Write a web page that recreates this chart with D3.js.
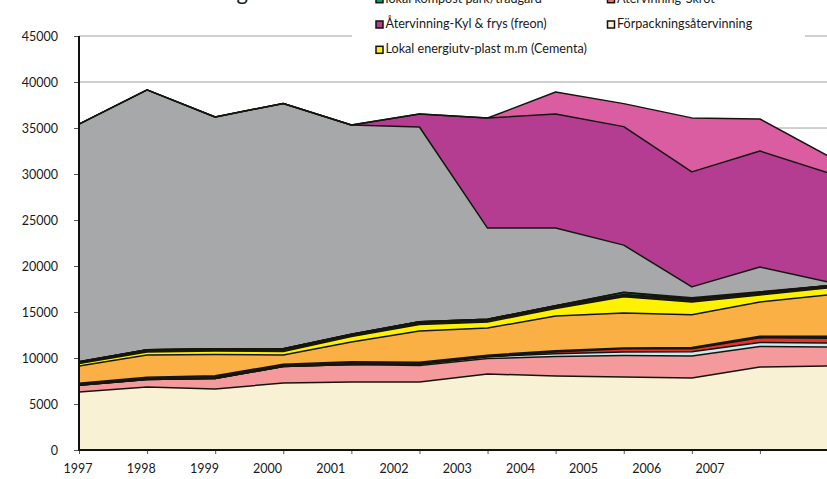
<!DOCTYPE html>
<html><head><meta charset="utf-8">
<script src="https://cdn.jsdelivr.net/npm/d3@7"></script>
<style>
html,body{margin:0;padding:0;background:#fff;overflow:hidden}
text{font-family:Lato,"Open Sans",sans-serif;fill:#1a1a1a}
</style></head>
<body><svg id="c" width="827" height="479"></svg>
<script>
// ---- data ----
const years = [1997,1998,1999,2000,2001,2002,2003,2004,2005,2006,2007,2008];
const yearLabels = ["1997","1998","1999","2000","2001","2002","2003","2004","2005","2006","2007"];
const yTicks = [0,5000,10000,15000,20000,25000,30000,35000,40000,45000];

const forpackning = [6300,6850,6630,7280,7390,7390,8260,8040,7940,7830,9020,9130];
const rosa        = [750,810,1140,1790,1900,1790,1680,2120,2330,2390,2220,2060];
const ljusbla     = [0,0,0,0,0,150,200,300,380,450,450,450];
const rod         = [0,0,0,0,0,0,0,200,350,330,500,500];
const mork1       = [200,250,300,250,300,200,160,140,80,140,180,220];
const orange      = [1870,2420,2310,1010,2150,3400,2950,3770,3810,3550,3720,4490];
const cementa     = [270,330,380,380,600,710,650,820,1770,1410,760,760];
const mork2       = [200,250,250,300,250,300,300,300,250,310,270,250];
const kompost     = [0,0,0,0,0,0,0,0,200,0,0,0];
const lila        = [0,0,0,0,0,0,0,0,50,150,80,0];
const gra         = [25830,28230,25190,26660,22740,21170,9920,8450,5110,1170,2690,410];
const freon       = [0,0,0,0,0,1410,11960,12390,12880,12500,12610,11850];
const magenta     = [0,0,0,0,0,0,0,2390,2500,5870,3480,1850];

const seriesKeys = ["forpackning","rosa","ljusbla","rod","mork1","orange","cementa","mork2","kompost","lila","gra","freon","magenta"];
const seriesData = {forpackning,rosa,ljusbla,rod,mork1,orange,cementa,mork2,kompost,lila,gra,freon,magenta};
const colors = {forpackning:"#F8F1D3",rosa:"#F49A9D",ljusbla:"#CBE9EE",rod:"#E8332B",mork1:"#1B1B12",
  orange:"#FAB045",cementa:"#FFF200",mork2:"#1B1B12",kompost:"#00A06E",lila:"#B33C90",gra:"#A7A8AA",
  freon:"#B43D92",magenta:"#DB5DA1"};

const legendItems = [
  {label:"lokal kompost park/trädgård", color:"#00A06E", col:0, row:0},
  {label:"Återvinning-Skrot", color:"#EE7378", col:1, row:0},
  {label:"Återvinning-Kyl & frys (freon)", color:"#B43D92", col:0, row:1},
  {label:"Förpackningsåtervinning", color:"#F8F1D3", col:1, row:1},
  {label:"Lokal energiutv-plast m.m (Cementa)", color:"#FFF200", col:0, row:2}
];

// ---- chart ----
const svg = d3.select("#c");
const x = d3.scaleLinear().domain([1997,2008]).range([79,828]);
const y = d3.scaleLinear().domain([0,45000]).range([450,36]);
const xl = d3.scalePoint().domain(yearLabels).range([77.5,709.5]);

const table = years.map((yr,i)=>{const o={year:yr}; seriesKeys.forEach(k=>o[k]=seriesData[k][i]); return o;});
const stack = d3.stack().keys(seriesKeys)(table);

// grid
svg.append("g").selectAll("line").data(yTicks.filter(d=>d>0)).join("line")
  .attr("x1",79).attr("x2",827).attr("y1",d=>y(d)).attr("y2",d=>y(d))
  .attr("stroke","#a0a0a0").attr("stroke-width",1);

const area = d3.area().x(d=>x(d.data.year)).y0(d=>y(d[0])).y1(d=>y(d[1]));
const line = d3.line().x(d=>x(d.data.year)).y(d=>y(d[1]));

svg.append("g").selectAll("path").data(stack).join("path")
  .attr("d",area).attr("fill",d=>colors[d.key]);
svg.append("g").selectAll("path").data(stack).join("path")
  .attr("d",line).attr("fill","none").attr("stroke","#15150f").attr("stroke-width",1.5)
  .attr("stroke-linejoin","round");

// axes
const ya = svg.append("g").attr("transform","translate(79,0)")
  .call(d3.axisLeft(y).tickValues(yTicks).tickSize(5).tickPadding(16).tickFormat(d3.format("d")));
ya.select(".domain").remove();
ya.selectAll(".tick line").attr("stroke","#555");
ya.selectAll("text").attr("font-size","12.5px").attr("font-family","Lato").attr("fill","#1a1a1a");
svg.append("line").attr("x1",79).attr("x2",79).attr("y1",y(45000)).attr("y2",y(0)+1)
  .attr("stroke","#111").attr("stroke-width",2);

const xa = svg.append("g").attr("transform","translate(0,450)")
  .call(d3.axisBottom(x).tickValues(years).tickSize(4).tickFormat(""));
xa.select(".domain").remove();
xa.selectAll(".tick line").attr("stroke","#555");
svg.append("line").attr("x1",78).attr("x2",827).attr("y1",450).attr("y2",450)
  .attr("stroke","#111").attr("stroke-width",2);

const xla = svg.append("g").attr("transform","translate(0,464)")
  .call(d3.axisBottom(xl).tickSize(0).tickPadding(0));
xla.select(".domain").remove();
xla.selectAll("text").attr("font-size","12.5px").attr("font-family","Lato").attr("fill","#1a1a1a");

// legend
const lg = svg.append("g");
lg.append("rect").attr("x",352).attr("y",-10).attr("width",453).attr("height",72).attr("fill","#fff");
const colX = [379.5,611], rowY = [2.7,28,53.3];
const li = lg.selectAll("g").data(legendItems).join("g");
li.append("rect").attr("x",d=>colX[d.col]-3.5).attr("y",d=>rowY[d.row]-7).attr("width",7).attr("height",7)
  .attr("fill",d=>d.color).attr("stroke","#111").attr("stroke-width",1.5);
li.append("text").attr("x",d=>colX[d.col]+6).attr("y",d=>rowY[d.row])
  .attr("font-size","12.6px").text(d=>d.label);

// title (cut off at top)
svg.append("text").attr("x",248).attr("y",0).attr("text-anchor","end")
  .attr("font-size","22px").text("Avfallsbehandling");
</script></body></html>
